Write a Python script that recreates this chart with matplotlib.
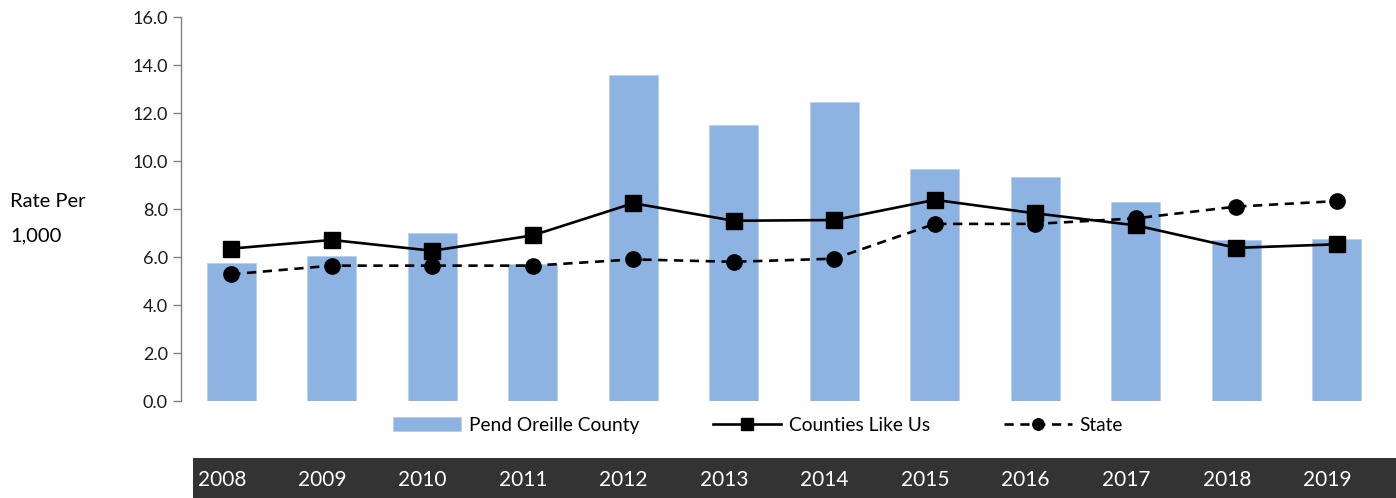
import numpy as np
import matplotlib.pyplot as plt
from matplotlib.transforms import blended_transform_factory

# Datos del gráfico
years = ["2008", "2009", "2010", "2011", "2012", "2013",
         "2014", "2015", "2016", "2017", "2018", "2019"]
county = [5.75, 6.05, 7.01, 5.71, 13.57, 11.49, 12.45, 9.68, 9.33, 8.29, 6.71, 6.74]
counties_like_us = [6.35, 6.71, 6.26, 6.90, 8.24, 7.51, 7.54, 8.38, 7.82, 7.32, 6.38, 6.53]
state = [5.28, 5.64, 5.64, 5.64, 5.90, 5.80, 5.93, 7.38, 7.38, 7.61, 8.10, 8.33]

plt.rcParams["font.family"] = ["Lato", "DejaVu Sans"]

W, H = 1396, 498
fig = plt.figure(figsize=(W / 100, H / 100), dpi=100)

ax = fig.add_axes([181 / W, (H - 401) / H, (1387 - 181) / W, 384 / H])
x = np.arange(len(years))

bars = ax.bar(x, county, width=0.49, color="#8DB3E2", edgecolor="#B9D0EE",
              linewidth=0.6, label="Pend Oreille County", zorder=1)
l1, = ax.plot(x, counties_like_us, color="black", lw=1.9, marker="s", ms=11.5,
              label="Counties Like Us", zorder=3)
l2, = ax.plot(x, state, color="black", lw=1.9, ls=(0, (3.5, 2.5)), marker="o", ms=11,
              label="State", zorder=2)

ax.set_xlim(-0.5, len(years) - 0.5)
ax.set_ylim(0, 16)
ax.set_yticks(np.arange(0, 16.1, 2))
ax.set_yticklabels([f"{v:.1f}" for v in np.arange(0, 16.1, 2)])
ax.set_xticks([])
for s in ["top", "right", "bottom"]:
    ax.spines[s].set_visible(False)
ax.spines["left"].set_color("#808080")
ax.spines["left"].set_linewidth(1.0)
ax.tick_params(axis="y", length=5.5, width=1.0, color="#808080",
               labelsize=13, labelcolor="#1a1a1a", pad=4)

# Etiqueta del eje Y
fig.text(10 / W, (H - 201) / H, "Rate Per", fontsize=14.5, va="center", ha="left")
fig.text(10 / W, (H - 236) / H, "1,000", fontsize=14.5, va="center", ha="left")

# Leyenda
fig.legend(handles=[bars, l1, l2], loc="center",
           bbox_to_anchor=(758 / W, (H - 425) / H), ncol=3,
           frameon=False, fontsize=13.8, handlelength=3.55, handleheight=0.7,
           handletextpad=0.4, columnspacing=3.85, markerscale=0.75)

# Banda oscura con los años
band = fig.add_axes([193 / W, 0, (W - 193) / W, 40 / H])
band.set_facecolor("#333333")
band.set_xticks([])
band.set_yticks([])
for s in band.spines.values():
    s.set_visible(False)

tr = blended_transform_factory(ax.transData, fig.transFigure)
for i, yr in enumerate(years):
    fig.text(i - 0.095, (H - 480) / H, yr, transform=tr, color="white",
             fontsize=15, ha="center", va="center")

fig.savefig("out.png", dpi=100)
